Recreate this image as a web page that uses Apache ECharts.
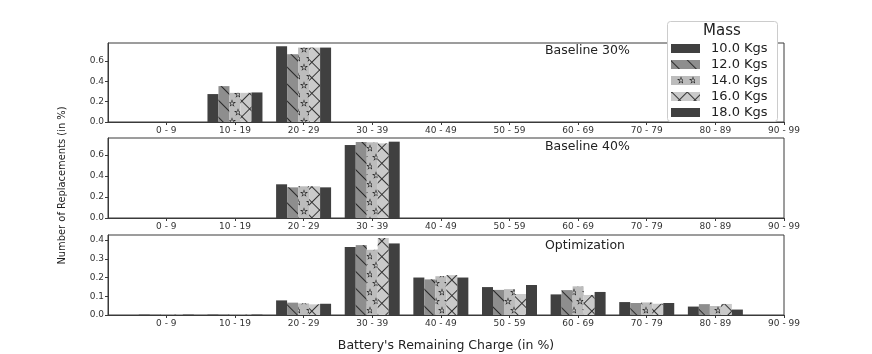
<!DOCTYPE html>
<html>
<head>
<meta charset="utf-8">
<script src="https://cdn.jsdelivr.net/npm/echarts@6/dist/echarts.min.js"></script>
<style>
html,body{margin:0;padding:0;background:#fff;}
#chart{width:872px;height:354px;}
</style>
</head>
<body>
<div id="chart"></div>
<script>
// ---- data ----
const categories = ['0 - 9','10 - 19','20 - 29','30 - 39','40 - 49','50 - 59','60 - 69','70 - 79','80 - 89','90 - 99'];
const massLabels = ['10.0 Kgs','12.0 Kgs','14.0 Kgs','16.0 Kgs','18.0 Kgs'];
const panelTitles = ['Baseline 30%','Baseline 40%','Optimization'];
const legendTitle = 'Mass';
const xAxisTitle = "Battery's Remaining Charge (in %)";
const yAxisTitle = 'Number of Replacements (in %)';

// Baseline 30%
const b30_m10 = [0, 0.274, 0.743, 0, 0, 0, 0, 0, 0, 0];
const b30_m12 = [0, 0.352, 0.665, 0, 0, 0, 0, 0, 0, 0];
const b30_m14 = [0, 0.286, 0.730, 0, 0, 0, 0, 0, 0, 0];
const b30_m16 = [0, 0.286, 0.730, 0, 0, 0, 0, 0, 0, 0];
const b30_m18 = [0, 0.290, 0.730, 0, 0, 0, 0, 0, 0, 0];
// Baseline 40%
const b40_m10 = [0, 0, 0.321, 0.695, 0, 0, 0, 0, 0, 0];
const b40_m12 = [0, 0, 0.292, 0.724, 0, 0, 0, 0, 0, 0];
const b40_m14 = [0, 0, 0.302, 0.721, 0, 0, 0, 0, 0, 0];
const b40_m16 = [0, 0, 0.302, 0.711, 0, 0, 0, 0, 0, 0];
const b40_m18 = [0, 0, 0.292, 0.727, 0, 0, 0, 0, 0, 0];
// Optimization
const opt_m10 = [0.002, 0.002, 0.078, 0.363, 0.200, 0.149, 0.110, 0.069, 0.045, 0];
const opt_m12 = [0.002, 0.002, 0.066, 0.373, 0.190, 0.134, 0.133, 0.064, 0.058, 0];
const opt_m14 = [0.002, 0.002, 0.062, 0.348, 0.207, 0.138, 0.153, 0.067, 0.048, 0];
const opt_m16 = [0.002, 0.002, 0.057, 0.411, 0.213, 0.112, 0.107, 0.060, 0.059, 0];
const opt_m18 = [0.002, 0.002, 0.060, 0.382, 0.200, 0.160, 0.123, 0.064, 0.029, 0];

const yTicksBaseline30 = [0, 0.2, 0.4, 0.6];
const yTicksBaseline40 = [0, 0.2, 0.4, 0.6];
const yTicksOptimization = [0, 0.1, 0.2, 0.3, 0.4];

// ---- build ----
const panels = [
  [b30_m10, b30_m12, b30_m14, b30_m16, b30_m18],
  [b40_m10, b40_m12, b40_m14, b40_m16, b40_m18],
  [opt_m10, opt_m12, opt_m14, opt_m16, opt_m18]
];
const yTicks = [yTicksBaseline30, yTicksBaseline40, yTicksOptimization];
const yMax = [0.775, 0.762, 0.427];
const gridTops = [43, 138, 235];
const gridH = [79, 80, 80];
const FONT = 'DejaVu Sans';
const AXC = '#3a3a3a';

const starPath = 'path://M50,0 L61.2,34.6 L97.6,34.5 L68.1,55.9 L79.4,90.5 L50,69 L20.6,90.5 L31.9,55.9 L2.4,34.5 L38.8,34.6 Z ' +
  'M50,22 L43.3,40.8 L23.4,40.7 L39.1,53.5 L33.4,72.3 L50,61.4 L66.6,72.3 L60.9,53.5 L76.6,40.7 L56.7,40.8 Z';

const xRows = [[11, 0]];
for (let i = 0; i < 10; i++) xRows.push([1, 10]);

const styles = [
  { color: '#404040' },
  { color: '#8e8e8e', decal: { symbol: 'rect', symbolSize: 1, color: 'rgba(25,25,25,0.85)', dashArrayX: [1, 0], dashArrayY: [1, 11], rotation: Math.PI / 4 } },
  { color: '#bcbcbc', decal: { symbol: starPath, symbolSize: 1, symbolKeepAspect: true, color: 'rgba(30,30,30,0.95)', dashArrayX: [[8, 4], [0, 6, 8, -2]], dashArrayY: [8, 1], rotation: 0 } },
  { color: '#cacaca', decal: { symbol: 'rect', symbolSize: 1, color: 'rgba(25,25,25,0.85)', dashArrayX: xRows, dashArrayY: [1, 0], rotation: Math.PI / 4 } },
  { color: '#404040' }
];

const grids = [], xAxes = [], yAxes = [], series = [];
panels.forEach((panel, p) => {
  grids.push({ left: 108, right: 88, top: gridTops[p], height: gridH[p], show: true, borderColor: AXC, borderWidth: 1, backgroundColor: 'transparent' });
  const tickVals = categories.map((c, i) => i);
  xAxes.push({
    type: 'value', gridIndex: p, min: -0.85, max: 9,
    axisLine: { show: true, onZero: false, lineStyle: { color: AXC, width: 1 } },
    axisTick: { show: true, customValues: tickVals, length: 3, lineStyle: { color: AXC } },
    axisLabel: { show: true, customValues: tickVals, margin: 4, fontSize: 9, fontFamily: FONT, color: '#333',
      formatter: v => categories[Math.round(v)] },
    splitLine: { show: false },
    name: p === 2 ? xAxisTitle : '', nameLocation: 'middle', nameGap: 24,
    nameTextStyle: { fontSize: 12.5, fontFamily: FONT, color: '#222' }
  });
  yAxes.push({
    type: 'value', gridIndex: p, min: 0, max: yMax[p],
    axisLine: { show: true, onZero: false, lineStyle: { color: AXC, width: 1 } },
    axisTick: { show: true, customValues: yTicks[p], length: 3, lineStyle: { color: AXC } },
    axisLabel: { show: true, customValues: yTicks[p], margin: 4, fontSize: 9, fontFamily: FONT, color: '#333',
      formatter: v => v.toFixed(1) },
    splitLine: { show: false }
  });
  panel.forEach((vals, m) => {
    series.push({
      type: 'bar', name: massLabels[m], xAxisIndex: p, yAxisIndex: p,
      barWidth: 11, barGap: '0%',
      data: vals.map((v, i) => [i, v]),
      itemStyle: styles[m],
      emphasis: { disabled: true },
      z: 2
    });
  });
});

const chart = echarts.init(document.getElementById('chart'), null, { renderer: 'canvas' });
chart.setOption({
  animation: false,
  backgroundColor: '#fff',
  grid: grids, xAxis: xAxes, yAxis: yAxes, series: series,
  legend: {
    data: massLabels, orient: 'vertical', left: 671, top: 42,
    itemWidth: 29, itemHeight: 9, itemGap: 3, icon: 'rect',
    textStyle: { fontSize: 13, fontFamily: FONT, color: '#222', padding: [0, 0, 0, 6] },
    padding: 0, selectedMode: false, z: 8
  },
  graphic: [
    { type: 'rect', z: 7, shape: { x: 667.5, y: 21.5, width: 110, height: 100, r: 3 }, style: { fill: '#fff', stroke: '#cccccc', lineWidth: 1 } },
    { type: 'text', z: 8, x: 722, y: 31.5, style: { text: legendTitle, font: '15px "DejaVu Sans"', fill: '#222', textAlign: 'center', textVerticalAlign: 'middle' } },
    { type: 'text', z: 8, x: 545, y: 51, style: { text: panelTitles[0], font: '12.5px "DejaVu Sans"', fill: '#222', textAlign: 'left', textVerticalAlign: 'middle' } },
    { type: 'text', z: 8, x: 545, y: 147, style: { text: panelTitles[1], font: '12.5px "DejaVu Sans"', fill: '#222', textAlign: 'left', textVerticalAlign: 'middle' } },
    { type: 'text', z: 8, x: 545, y: 246, style: { text: panelTitles[2], font: '12.5px "DejaVu Sans"', fill: '#222', textAlign: 'left', textVerticalAlign: 'middle' } },
    { type: 'text', z: 8, x: 62, y: 185.5, rotation: Math.PI / 2, style: { text: yAxisTitle, font: '11px "Liberation Sans Narrow", "DejaVu Sans Condensed", "DejaVu Sans"', fill: '#222', textAlign: 'center', textVerticalAlign: 'middle' } }
  ]
});
</script>
</body>
</html>
